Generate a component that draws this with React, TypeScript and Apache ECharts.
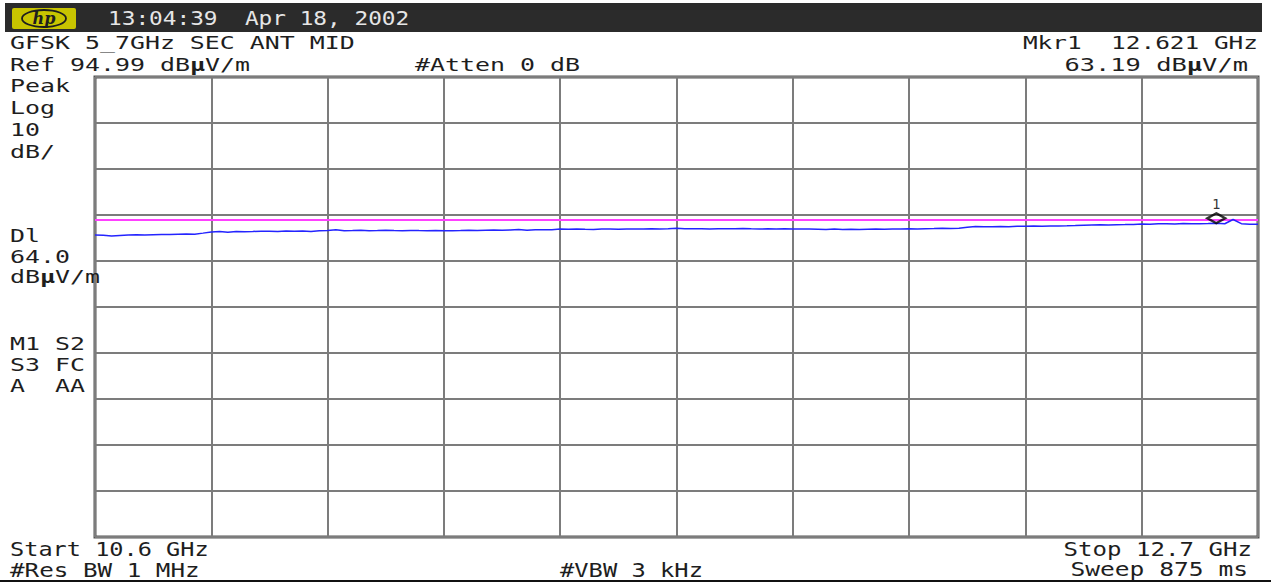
import { useEffect, useRef } from "react";
import * as echarts from "echarts";

// ---- Analyzer settings ----
const START_GHZ = 10.6;
const STOP_GHZ = 12.7;
const STEP_GHZ = 0.015;
const REF_LEVEL = 94.99;
const DB_PER_DIV = 10;
const DIVISIONS = 10;
const DISPLAY_LINE = 64.0;
const MARKER_FREQ = 12.621;
const MARKER_LEVEL = 63.19;

// ---- Trace levels (dBuV/m), one per sweep point every 15 MHz ----
const traceDiv1 = [60.62, 60.58, 60.45, 60.55, 60.64, 60.7, 60.66, 60.72, 60.75, 60.73, 60.8, 60.86, 60.82, 61.05];
const traceDiv2 = [61.3, 61.38, 61.25, 61.42, 61.36, 61.4, 61.48, 61.44, 61.4, 61.52, 61.45, 61.5, 61.42, 61.55];
const traceDiv3 = [61.62, 61.78, 61.55, 61.6, 61.66, 61.58, 61.62, 61.7, 61.6, 61.56, 61.64, 61.6, 61.58, 61.62];
const traceDiv4 = [61.58, 61.55, 61.6, 61.66, 61.62, 61.7, 61.74, 61.68, 61.72, 61.85, 61.7, 61.76, 61.8, 61.78];
const traceDiv5 = [61.92, 61.88, 61.95, 61.9, 61.86, 61.92, 61.95, 61.9, 61.93, 61.96, 61.92, 61.98, 61.94, 62.0];
const traceDiv6 = [62.1, 62.02, 61.98, 62.0, 61.96, 62.02, 61.98, 62.0, 62.04, 61.98, 61.94, 62.0, 61.96, 61.98];
const traceDiv7 = [61.96, 61.92, 61.96, 61.9, 61.84, 61.92, 61.86, 61.9, 61.84, 61.88, 61.92, 61.9, 61.94, 61.96];
const traceDiv8 = [62.0, 61.96, 62.02, 62.05, 62.1, 62.06, 62.12, 62.35, 62.5, 62.42, 62.46, 62.48, 62.44, 62.52];
const traceDiv9 = [62.55, 62.58, 62.56, 62.6, 62.62, 62.64, 62.7, 62.78, 62.82, 62.86, 62.84, 62.88, 62.9, 62.95];
const traceDiv10 = [63.05, 63.0, 63.08, 63.1, 63.06, 63.12, 63.1, 63.08, 63.12, 63.19, 63.08, 64.02, 63.1, 63.0, 62.97];

// ---- Annotation texts ----
const headerText = "13:04:39  Apr 18, 2002";
const titleText = "GFSK 5_7GHz SEC ANT MID";
const refText = "Ref 94.99 dB{b|μ}V/m";
const attenText = "#Atten 0 dB";
const mkrFreqText = "Mkr1  12.621 GHz";
const mkrLevelText = "63.19 dB{b|μ}V/m";
const scaleLabels = ["Peak", "Log", "10", "dB/"];
const dlLabels = ["Dl", "64.0", "dB{b|μ}V/m"];
const statusLabels = ["M1 S2", "S3 FC", "A  AA"];
const startText = "Start 10.6 GHz";
const stopText = "Stop 12.7 GHz";
const rbwText = "#Res BW 1 MHz";
const vbwText = "#VBW 3 kHz";
const sweepText = "Sweep 875 ms";

const MONO = '"DejaVu Sans Mono", "Liberation Mono", monospace';

function txt(
  text: string,
  x: number,
  y: number,
  o: { size?: number; adv?: number; align?: string; fill?: string } = {}
) {
  const size = o.size ?? 18;
  const adv = o.adv ?? 15;
  const scaleX = adv / (size * 0.602);
  const align = o.align ?? "left";
  return {
    type: "text",
    x,
    y,
    scaleX,
    z: 20,
    silent: true,
    style: {
      text,
      font: `${size}px ${MONO}`,
      fill: o.fill ?? "#1e1e1e",
      align,
      textAlign: align,
      verticalAlign: "middle",
      textVerticalAlign: "middle",
      rich: {
        b: { font: `bold ${size}px ${MONO}`, fill: o.fill ?? "#1e1e1e" },
      },
    },
  };
}

export default function App() {
  const ref = useRef<HTMLDivElement>(null);

  useEffect(() => {
    document.body.style.margin = "0";
    const chart = echarts.init(ref.current!, null, { renderer: "svg" });

    const levels = [
      ...traceDiv1, ...traceDiv2, ...traceDiv3, ...traceDiv4, ...traceDiv5,
      ...traceDiv6, ...traceDiv7, ...traceDiv8, ...traceDiv9, ...traceDiv10,
    ];
    const trace = levels.map((v, i) => [
      Math.min(STOP_GHZ, +(START_GHZ + i * STEP_GHZ).toFixed(3)),
      v,
    ]);
    const bottomLevel = REF_LEVEL - DB_PER_DIV * DIVISIONS;

    const gridLine = { show: true, lineStyle: { color: "#7c7c7c", width: 2 } };

    const graphics: any[] = [
      // header bar
      { type: "rect", z: 5, silent: true, shape: { x: 5, y: 3, width: 1257, height: 29 }, style: { fill: "#2b2b2b" } },
      // hp logo
      { type: "rect", z: 10, silent: true, shape: { x: 12, y: 8, width: 64, height: 21, r: 2 }, style: { fill: "#c8c400" } },
      { type: "ellipse", z: 11, silent: true, shape: { cx: 44, cy: 18.5, rx: 22, ry: 8.5 }, style: { fill: "none", stroke: "#1e1e1e", lineWidth: 1.8 } },
      {
        type: "text", z: 12, silent: true, x: 44, y: 18.5,
        style: { text: "hp", font: 'italic bold 16px "DejaVu Serif", serif', fill: "#1e1e1e", align: "center", textAlign: "center", verticalAlign: "middle", textVerticalAlign: "middle" },
      },
      txt(headerText, 108, 18, { size: 20, adv: 13.7, fill: "#e6e6e6" }),
      txt(titleText, 10, 43),
      txt(mkrFreqText, 1258, 43, { align: "right", adv: 14.7 }),
      txt(refText, 10, 65),
      txt(attenText, 415, 65),
      txt(mkrLevelText, 1248, 65, { align: "right", adv: 15.3 }),
      ...scaleLabels.map((s, i) => txt(s, 10, 86 + i * 22)),
      ...dlLabels.map((s, i) => txt(s, 10, 236 + i * 20.5)),
      ...statusLabels.map((s, i) => txt(s, 10, 344 + i * 21)),
      txt(startText, 10, 549, { adv: 14.2, size: 19 }),
      txt(stopText, 1252, 549, { align: "right", adv: 14.5, size: 19 }),
      txt(rbwText, 10, 570, { adv: 14.6, size: 19 }),
      txt(vbwText, 560, 570, { adv: 14.3, size: 19 }),
      txt(sweepText, 1248, 570, { align: "right", adv: 14.8, size: 19 }),
      // bottom rule
      { type: "line", z: 5, silent: true, shape: { x1: 0, y1: 581, x2: 1271, y2: 581 }, style: { stroke: "#111", lineWidth: 2 } },
    ];

    chart.setOption({
      animation: false,
      backgroundColor: "#ffffff",
      grid: {
        left: 95,
        right: 13,
        top: 77,
        bottom: 46,
        show: true,
        backgroundColor: "#ffffff",
        borderColor: "#555555",
        borderWidth: 3,
        containLabel: false,
      },
      xAxis: [
        { type: "value", min: START_GHZ, max: STOP_GHZ, show: false },
        {
          type: "value", min: 0, max: DIVISIONS, interval: 1, position: "bottom",
          axisLine: { show: false }, axisTick: { show: false }, axisLabel: { show: false },
          splitLine: gridLine,
        },
      ],
      yAxis: [
        { type: "value", min: bottomLevel, max: REF_LEVEL, show: false },
        {
          type: "value", min: 0, max: DIVISIONS, interval: 1, position: "left",
          axisLine: { show: false }, axisTick: { show: false }, axisLabel: { show: false },
          splitLine: gridLine,
        },
      ],
      series: [
        {
          type: "line",
          xAxisIndex: 0,
          yAxisIndex: 0,
          data: trace,
          symbol: "none",
          silent: true,
          z: 5,
          lineStyle: { color: "#2424ff", width: 1.5 },
          markLine: {
            silent: true,
            symbol: "none",
            label: { show: false },
            lineStyle: { color: "#ff40ff", width: 2, type: "solid" },
            data: [{ yAxis: DISPLAY_LINE }],
          },
        },
        {
          type: "scatter",
          xAxisIndex: 0,
          yAxisIndex: 0,
          data: [[MARKER_FREQ, MARKER_LEVEL]],
          symbol: "diamond",
          symbolSize: [18, 10],
          symbolOffset: [2, -5],
          z: 10,
          silent: true,
          itemStyle: { color: "rgba(255,255,255,0)", borderColor: "#000000", borderWidth: 2.5 },
          label: {
            show: true,
            formatter: "1",
            position: "top",
            distance: 1,
            color: "#000000",
            fontFamily: MONO,
            fontSize: 14,
          },
        },
      ],
      graphic: graphics,
    });

    return () => chart.dispose();
  }, []);

  return <div ref={ref} style={{ width: 1271, height: 583 }} />;
}
